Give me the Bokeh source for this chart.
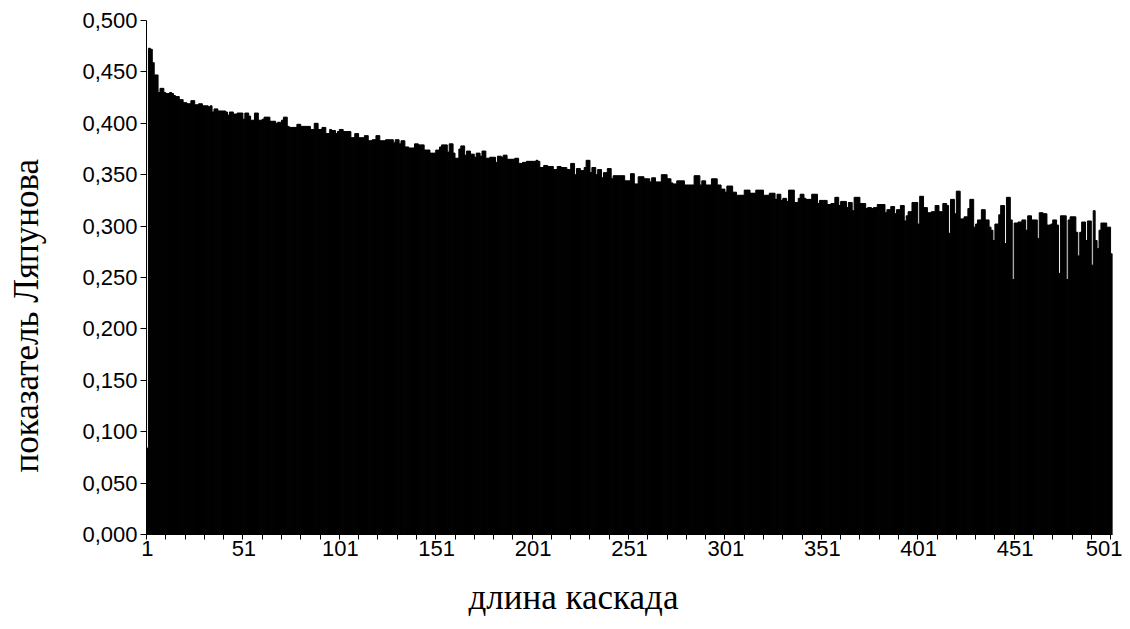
from bokeh.plotting import figure
from bokeh.models import FixedTicker, Range1d, Title
from bokeh.embed import file_html
from bokeh.resources import INLINE

# ---- data ----
cascade_length = list(range(1, 502))

lyapunov = [
    0.084, 0.473, 0.472, 0.459, 0.447, 0.447, 0.430, 0.434, 0.434, 0.430,
    0.429, 0.429, 0.430, 0.429, 0.427, 0.426, 0.426, 0.423, 0.423, 0.420,
    0.420, 0.419, 0.419, 0.422, 0.422, 0.418, 0.418, 0.419, 0.419, 0.417,
    0.417, 0.417, 0.416, 0.417, 0.411, 0.414, 0.414, 0.412, 0.412, 0.412,
    0.412, 0.411, 0.408, 0.411, 0.411, 0.409, 0.409, 0.410, 0.410, 0.410,
    0.404, 0.410, 0.410, 0.407, 0.403, 0.403, 0.410, 0.410, 0.403, 0.403,
    0.404, 0.406, 0.406, 0.406, 0.402, 0.402, 0.402, 0.400, 0.401, 0.401,
    0.403, 0.406, 0.406, 0.397, 0.396, 0.396, 0.396, 0.396, 0.399, 0.399,
    0.397, 0.397, 0.397, 0.397, 0.397, 0.394, 0.394, 0.400, 0.400, 0.394,
    0.394, 0.396, 0.396, 0.390, 0.390, 0.394, 0.393, 0.393, 0.390, 0.392,
    0.394, 0.394, 0.392, 0.392, 0.392, 0.392, 0.386, 0.386, 0.390, 0.390,
    0.386, 0.386, 0.386, 0.388, 0.388, 0.383, 0.383, 0.384, 0.384, 0.388,
    0.388, 0.383, 0.383, 0.383, 0.384, 0.384, 0.384, 0.384, 0.381, 0.384,
    0.384, 0.380, 0.383, 0.383, 0.377, 0.377, 0.376, 0.376, 0.376, 0.380,
    0.380, 0.379, 0.379, 0.379, 0.374, 0.374, 0.374, 0.371, 0.371, 0.371,
    0.374, 0.374, 0.377, 0.379, 0.379, 0.379, 0.372, 0.380, 0.380, 0.371,
    0.366, 0.366, 0.375, 0.378, 0.378, 0.369, 0.373, 0.373, 0.370, 0.370,
    0.367, 0.371, 0.371, 0.368, 0.373, 0.373, 0.366, 0.366, 0.367, 0.367,
    0.367, 0.362, 0.368, 0.368, 0.367, 0.369, 0.369, 0.365, 0.365, 0.365,
    0.365, 0.366, 0.366, 0.361, 0.361, 0.362, 0.362, 0.363, 0.363, 0.363,
    0.363, 0.363, 0.364, 0.363, 0.357, 0.357, 0.359, 0.359, 0.358, 0.358,
    0.358, 0.355, 0.355, 0.358, 0.358, 0.357, 0.357, 0.357, 0.355, 0.355,
    0.361, 0.361, 0.350, 0.356, 0.356, 0.354, 0.354, 0.357, 0.364, 0.364,
    0.352, 0.357, 0.357, 0.350, 0.355, 0.355, 0.347, 0.352, 0.352, 0.356,
    0.356, 0.346, 0.349, 0.349, 0.349, 0.349, 0.349, 0.349, 0.344, 0.344,
    0.344, 0.351, 0.351, 0.341, 0.341, 0.348, 0.348, 0.348, 0.346, 0.346,
    0.346, 0.343, 0.347, 0.347, 0.343, 0.343, 0.343, 0.350, 0.350, 0.350,
    0.346, 0.346, 0.342, 0.341, 0.341, 0.344, 0.344, 0.344, 0.344, 0.340,
    0.340, 0.340, 0.340, 0.340, 0.349, 0.349, 0.349, 0.340, 0.344, 0.344,
    0.340, 0.340, 0.340, 0.346, 0.346, 0.346, 0.340, 0.340, 0.336, 0.336,
    0.333, 0.339, 0.339, 0.339, 0.333, 0.333, 0.330, 0.330, 0.330, 0.330,
    0.335, 0.335, 0.335, 0.332, 0.332, 0.332, 0.335, 0.335, 0.335, 0.335,
    0.330, 0.330, 0.330, 0.332, 0.332, 0.332, 0.326, 0.331, 0.331, 0.325,
    0.327, 0.327, 0.324, 0.335, 0.335, 0.335, 0.323, 0.323, 0.327, 0.331,
    0.331, 0.327, 0.326, 0.326, 0.326, 0.331, 0.331, 0.331, 0.322, 0.325,
    0.325, 0.325, 0.325, 0.321, 0.321, 0.322, 0.322, 0.328, 0.328, 0.320,
    0.324, 0.324, 0.324, 0.318, 0.323, 0.323, 0.315, 0.328, 0.328, 0.328,
    0.322, 0.322, 0.322, 0.317, 0.318, 0.318, 0.317, 0.318, 0.318, 0.321,
    0.321, 0.321, 0.321, 0.313, 0.316, 0.316, 0.319, 0.319, 0.312, 0.316,
    0.316, 0.320, 0.320, 0.305, 0.310, 0.314, 0.314, 0.323, 0.323, 0.323,
    0.302, 0.329, 0.329, 0.318, 0.318, 0.313, 0.313, 0.314, 0.314, 0.320,
    0.320, 0.314, 0.314, 0.322, 0.322, 0.320, 0.293, 0.326, 0.326, 0.312,
    0.334, 0.334, 0.307, 0.307, 0.309, 0.309, 0.317, 0.326, 0.326, 0.299,
    0.302, 0.306, 0.306, 0.316, 0.316, 0.306, 0.306, 0.299, 0.296, 0.286,
    0.302, 0.302, 0.311, 0.320, 0.320, 0.283, 0.328, 0.328, 0.306, 0.248,
    0.303, 0.303, 0.304, 0.304, 0.306, 0.306, 0.296, 0.310, 0.310, 0.306,
    0.306, 0.306, 0.288, 0.313, 0.313, 0.312, 0.312, 0.301, 0.301, 0.302,
    0.306, 0.306, 0.301, 0.254, 0.310, 0.310, 0.310, 0.248, 0.306, 0.309,
    0.309, 0.309, 0.294, 0.271, 0.294, 0.304, 0.304, 0.286, 0.305, 0.305,
    0.262, 0.315, 0.286, 0.278, 0.296, 0.303, 0.303, 0.303, 0.299, 0.299,
    0.273,
]

y_tick_values = [0.0, 0.05, 0.1, 0.15, 0.2, 0.25, 0.3, 0.35, 0.4, 0.45, 0.5]
y_tick_labels = ["0,000", "0,050", "0,100", "0,150", "0,200", "0,250",
                 "0,300", "0,350", "0,400", "0,450", "0,500"]
x_tick_values = [1, 51, 101, 151, 201, 251, 301, 351, 401, 451, 501]
x_tick_labels = ["1", "51", "101", "151", "201", "251", "301", "351", "401", "451", "501"]
x_minor_ticks = [0.5 + 10 * i for i in range(51)]

x_title = "длина каскада"
y_title = "показатель Ляпунова"

# ---- figure ----
p = figure(width=1122, height=627,
           x_range=Range1d(0.5, len(cascade_length) + 0.5),
           y_range=Range1d(0, 0.5),
           output_backend="svg", toolbar_location=None,
           min_border_left=146, min_border_right=10,
           min_border_top=20, min_border_bottom=93)

p.vbar(x=cascade_length, top=lyapunov, width=1.0,
       fill_color="black", line_color="black", line_width=1.0)

p.xgrid.visible = False
p.ygrid.visible = False
p.outline_line_color = None
p.background_fill_color = "white"
p.border_fill_color = "white"

# y axis
ya = p.yaxis[0]
ya.ticker = FixedTicker(ticks=y_tick_values, minor_ticks=[])
ya.major_label_overrides = {v: l for v, l in zip(y_tick_values, y_tick_labels)}
ya.major_tick_out = 6
ya.major_tick_in = 0
ya.minor_tick_out = 0
ya.axis_line_color = "black"
ya.major_tick_line_color = "black"
ya.major_label_text_font = "Liberation Sans"
ya.major_label_text_font_size = "22px"
ya.major_label_text_color = "black"
ya.major_label_standoff = 3
# blank spacer label: keeps a gap between tick labels and the title
ya.axis_label = " "
ya.axis_label_text_font_size = "1px"
ya.axis_label_standoff = 28

# x axis
xa = p.xaxis[0]
xa.ticker = FixedTicker(ticks=x_tick_values, minor_ticks=x_minor_ticks)
xa.major_label_overrides = {v: l for v, l in zip(x_tick_values, x_tick_labels)}
xa.major_tick_out = 0
xa.major_tick_in = 0
xa.minor_tick_out = 5
xa.minor_tick_in = 0
xa.minor_tick_line_color = "black"
xa.axis_line_color = "black"
xa.major_label_text_font = "Liberation Sans"
xa.major_label_text_font_size = "22px"
xa.major_label_text_color = "black"
xa.major_label_standoff = 1
xa.axis_label = " "
xa.axis_label_text_font_size = "1px"
xa.axis_label_standoff = 9

# axis titles, placed off-centre as in the reference
title_style = dict(text_font="Liberation Serif", text_font_size="35px",
                   text_font_style="normal", text_color="black",
                   align="left", vertical_align="middle")
p.add_layout(Title(text=x_title, offset=322, standoff=10, **title_style), "below")
p.add_layout(Title(text=y_title, offset=62, standoff=2, **title_style), "left")

open("out.html", "w").write(file_html(p, INLINE))
